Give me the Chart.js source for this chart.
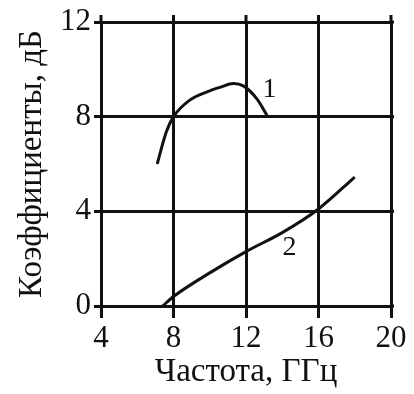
<!DOCTYPE html>
<html>
<head>
<meta charset="utf-8">
<script src="https://cdn.jsdelivr.net/npm/chart.js@4.4.0/dist/chart.umd.min.js"></script>
<style>
  html, body { margin: 0; padding: 0; background: #fff; }
  #wrap { width: 414px; height: 394px; }
</style>
</head>
<body>
<div id="wrap"><canvas id="c" width="414" height="394"></canvas></div>
<script>
// Curve 1: frequency (GHz) and coefficient (dB)
const curve1X = [7.1, 7.6, 8.0, 8.9, 9.85, 10.6, 11.3, 11.85, 12.6, 13.2];
const curve1Y = [6.0, 7.35, 8.0, 8.7, 9.05, 9.25, 9.4, 9.3, 8.75, 8.0];
// Curve 2
const curve2X = [7.4, 8.0, 10.0, 12.0, 14.0, 16.0, 18.0];
const curve2Y = [0.0, 0.4, 1.4, 2.3, 3.1, 4.1, 5.45];
// Curve number labels placed in data coordinates
const curveLabels = ['1', '2'];
const labelX = [13.3, 14.4];
const labelY = [9.15, 2.45];
// Axis ticks
const xTicks = [4, 8, 12, 16, 20];
const yTicks = [0, 4, 8, 12];
const xTitle = 'Частота, ГГц';
const yTitle = 'Коэффициенты, дБ';

const INK = '#111';
const SERIF = '"Liberation Serif", "Times New Roman", serif';

function toPoints(xs, ys) { return xs.map((x, i) => ({ x: x, y: ys[i] })); }

// Grid lines extend a little past the top and right of the plot area
const gridExtend = {
  id: 'gridExtend',
  beforeDatasetsDraw(chart) {
    const { ctx, chartArea, scales } = chart;
    ctx.save();
    ctx.strokeStyle = INK;
    ctx.lineWidth = 3;
    xTicks.forEach(v => {
      const px = scales.x.getPixelForValue(v);
      ctx.beginPath();
      ctx.moveTo(px, chartArea.top);
      ctx.lineTo(px, chartArea.top - 7);
      ctx.stroke();
    });
    yTicks.forEach(v => {
      const py = scales.y.getPixelForValue(v);
      ctx.beginPath();
      ctx.moveTo(chartArea.right, py);
      ctx.lineTo(chartArea.right + 3, py);
      ctx.stroke();
    });
    ctx.restore();
  }
};

// Numbers identifying each curve
const curveNumbers = {
  id: 'curveNumbers',
  afterDatasetsDraw(chart) {
    const { ctx, scales } = chart;
    ctx.save();
    ctx.fillStyle = INK;
    ctx.font = '28px ' + SERIF;
    ctx.textAlign = 'center';
    ctx.textBaseline = 'middle';
    curveLabels.forEach((t, i) => {
      ctx.fillText(t, scales.x.getPixelForValue(labelX[i]), scales.y.getPixelForValue(labelY[i]));
    });
    ctx.restore();
  }
};

new Chart(document.getElementById('c'), {
  type: 'scatter',
  data: {
    datasets: [
      {
        data: toPoints(curve1X, curve1Y),
        showLine: true,
        borderColor: INK,
        borderWidth: 3,
        pointRadius: 0,
        cubicInterpolationMode: 'monotone',
        fill: false
      },
      {
        data: toPoints(curve2X, curve2Y),
        showLine: true,
        borderColor: INK,
        borderWidth: 3,
        pointRadius: 0,
        cubicInterpolationMode: 'monotone',
        fill: false
      }
    ]
  },
  options: {
    responsive: false,
    animation: false,
    events: [],
    layout: { padding: { top: 22, right: 23, left: 0, bottom: 0 } },
    plugins: { legend: { display: false }, tooltip: { enabled: false } },
    scales: {
      x: {
        type: 'linear',
        min: 4, max: 20,
        afterBuildTicks(scale) { scale.ticks = xTicks.map(v => ({ value: v })); },
        afterFit(scale) { scale.height = 88; },
        grid: { color: INK, lineWidth: 3, tickLength: 12, drawTicks: true },
        border: { display: false },
        ticks: {
          color: INK,
          font: { family: SERIF, size: 31 },
          padding: 2,
          maxRotation: 0,
          autoSkip: false
        },
        title: {
          display: true,
          text: xTitle,
          color: INK,
          font: { family: SERIF, size: 33 },
          padding: { top: 0, bottom: 2 }
        }
      },
      y: {
        type: 'linear',
        min: 0, max: 12,
        afterBuildTicks(scale) { scale.ticks = yTicks.map(v => ({ value: v })); },
        afterFit(scale) { scale.width = 101; },
        grid: { color: INK, lineWidth: 3, tickLength: 7, drawTicks: true },
        border: { display: false },
        ticks: {
          color: INK,
          font: { family: SERIF, size: 31 },
          padding: 3,
          autoSkip: false
        },
        title: {
          display: true,
          text: yTitle,
          color: INK,
          font: { family: SERIF, size: 33 },
          padding: { top: 13, bottom: 0 }
        }
      }
    }
  },
  plugins: [gridExtend, curveNumbers]
});
</script>
</body>
</html>
